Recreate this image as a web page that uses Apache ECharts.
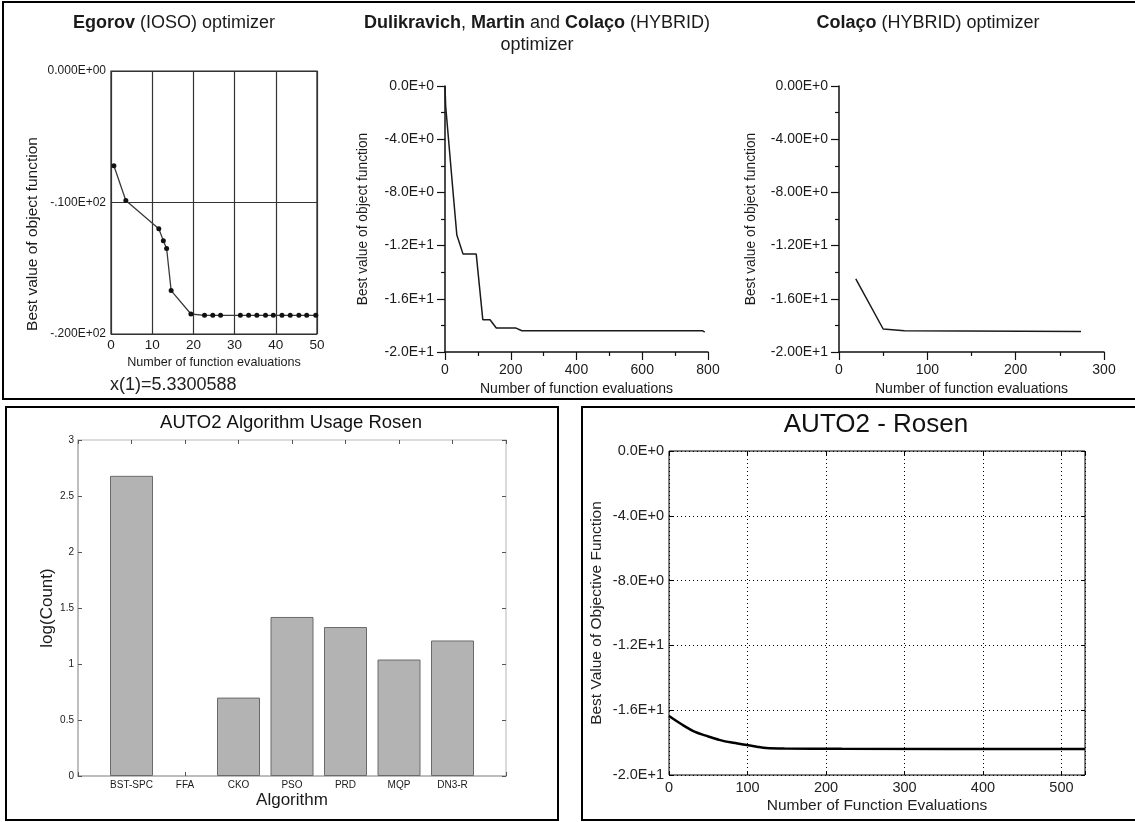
<!DOCTYPE html>
<html>
<head>
<meta charset="utf-8">
<script src="https://cdn.jsdelivr.net/npm/echarts@6/dist/echarts.min.js"></script>
<style>
  html, body { margin: 0; padding: 0; background: #ffffff; }
  #chart { width: 1135px; height: 822px; }
</style>
</head>
<body>
<div id="chart"></div>
<script>
const FONT = '"Liberation Sans", Arial, Helvetica, sans-serif';
const INK = '#1a1a1a';

// Egorov (IOSO) optimizer: best objective value per evaluation
const egorovEvals = [0.7, 3.6, 11.6, 12.7, 13.5, 14.6, 19.4, 22.7, 24.7, 26.6, 31.4, 33.4, 35.4, 37.5, 39.4, 41.5, 43.5, 45.6, 47.5, 49.7];
const egorovBest  = [-7.2, -9.85, -12.0, -12.9, -13.5, -16.7, -18.48, -18.58, -18.58, -18.58, -18.58, -18.58, -18.58, -18.58, -18.58, -18.58, -18.58, -18.58, -18.58, -18.58];
const egorovYLabels = ['0.000E+00', '-.100E+02', '-.200E+02'];

// Dulikravich, Martin and Colaço (HYBRID) optimizer
const hybridEvals = [0, 2, 26, 36, 55, 95, 115, 137, 156, 216, 234, 783, 790];
const hybridBest  = [0, -1.5, -8.4, -11.2, -12.64, -12.64, -17.57, -17.57, -18.2, -18.2, -18.4, -18.4, -18.5];
const hybridYLabels = ['0.0E+0', '-4.0E+0', '-8.0E+0', '-1.2E+1', '-1.6E+1', '-2.0E+1'];

// Colaço (HYBRID) optimizer
const colacoEvals = [19, 50, 74, 274];
const colacoBest  = [-14.5, -18.27, -18.4, -18.45];
const colacoYLabels = ['0.00E+0', '-4.00E+0', '-8.00E+0', '-1.20E+1', '-1.60E+1', '-2.00E+1'];

// AUTO2 algorithm usage on Rosen
const algorithms = ['BST-SPC', 'FFA', 'CKO', 'PSO', 'PRD', 'MQP', 'DN3-R'];
const logCounts  = [2.68, 0, 0.70, 1.42, 1.33, 1.04, 1.21];

// AUTO2 - Rosen convergence
const auto2Evals = [0, 17, 34, 50, 64, 80, 97, 112, 124, 147, 220, 530];
const auto2Best  = [-16.36, -16.9, -17.36, -17.62, -17.83, -18.0, -18.13, -18.25, -18.33, -18.36, -18.38, -18.4];
const auto2YLabels = ['0.0E+0', '-4.0E+0', '-8.0E+0', '-1.2E+1', '-1.6E+1', '-2.0E+1'];

const pairs = (xs, ys) => xs.map((x, i) => [x, ys[i]]);
const eLabel = (labels, step) => v => labels[Math.round(-v / step)] ?? '';

const txt = (size, extra) => Object.assign({ fontFamily: FONT, fontSize: size, color: INK }, extra || {});

const hybridXAxis = (grid, max, interval) => ({
  gridIndex: grid, type: 'value', min: 0, max: max, interval: interval,
  axisLine: { onZero: false, lineStyle: { color: '#111', width: 1.5 } },
  axisTick: { length: 8, lineStyle: { color: '#111', width: 1.2 } },
  minorTick: { show: true, splitNumber: 2, length: 4, lineStyle: { color: '#111', width: 1.2 } },
  splitLine: { show: false },
  axisLabel: txt(14, { margin: 11 }),
  name: 'Number of function evaluations', nameLocation: 'middle', nameGap: 30,
  nameTextStyle: txt(14)
});

const hybridYAxis = (grid, labels, gap) => ({
  gridIndex: grid, type: 'value', min: -20, max: 0, interval: 4,
  axisLine: { show: true, onZero: false, lineStyle: { color: '#111', width: 1.5 } },
  axisTick: { show: true, length: 8, lineStyle: { color: '#111', width: 1.2 } },
  minorTick: { show: true, splitNumber: 2, length: 4, lineStyle: { color: '#111', width: 1.2 } },
  splitLine: { show: false },
  axisLabel: txt(14, { margin: 11, formatter: eLabel(labels, 4) }),
  name: 'Best value of object function', nameLocation: 'middle', nameGap: gap,
  nameTextStyle: txt(13.8)
});

const chart = echarts.init(document.getElementById('chart'), null, { renderer: 'canvas' });

chart.setOption({
  animation: false,
  backgroundColor: '#ffffff',
  grid: [
    { left: 111, top: 71, width: 206, height: 263, show: true, borderColor: '#222', borderWidth: 1.2, backgroundColor: 'transparent' },
    { left: 445, top: 86, width: 263, height: 266 },
    { left: 839, top: 86, width: 265, height: 266 },
    { left: 78, top: 440, width: 428, height: 336 },
    { left: 669, top: 451, width: 416, height: 324, show: true, borderColor: '#000', borderWidth: 1, backgroundColor: 'transparent' }
  ],
  xAxis: [
    {
      gridIndex: 0, type: 'value', min: 0, max: 50, interval: 10,
      axisLine: { show: false, onZero: false },
      axisTick: { show: false },
      splitLine: { show: true, lineStyle: { color: '#333', width: 1.2 } },
      axisLabel: txt(13.5, { margin: 4 }),
      name: 'Number of function evaluations', nameLocation: 'middle', nameGap: 22,
      nameTextStyle: txt(12.6)
    },
    hybridXAxis(1, 800, 200),
    hybridXAxis(2, 300, 100),
    {
      gridIndex: 3, type: 'value', min: 0, max: 8, interval: 1,
      axisLine: { onZero: false, lineStyle: { color: '#a8a8a8', width: 1.5 } },
      axisTick: { inside: true, length: 4, lineStyle: { color: '#555' } },
      splitLine: { show: false },
      axisLabel: txt(10, { margin: 4, formatter: v => algorithms[v - 1] || '' }),
      name: 'Algorithm', nameLocation: 'middle', nameGap: 16,
      nameTextStyle: txt(17)
    },
    {
      gridIndex: 3, type: 'value', min: 0, max: 8, interval: 1, position: 'top',
      axisLine: { onZero: false, lineStyle: { color: '#cfcfcf', width: 1.5 } },
      axisTick: { inside: true, length: 4, lineStyle: { color: '#555' } },
      splitLine: { show: false }, axisLabel: { show: false }
    },
    {
      gridIndex: 4, type: 'value', min: 0, max: 530, interval: 100,
      axisLine: { show: false, onZero: false },
      axisTick: { inside: true, length: 4, lineStyle: { color: '#000' } },
      splitLine: { show: true, lineStyle: { color: '#000', type: [1, 3], width: 1 } },
      axisLabel: txt(14.5, { margin: 5, color: '#222', formatter: v => (v % 100 === 0 ? String(v) : '') }),
      name: 'Number of Function Evaluations', nameLocation: 'middle', nameGap: 23,
      nameTextStyle: txt(15.5, { color: '#222' })
    },
    {
      gridIndex: 4, type: 'value', min: 0, max: 530, interval: 100, position: 'top',
      axisLine: { show: false, onZero: false },
      axisTick: { inside: true, length: 4, lineStyle: { color: '#000' } },
      splitLine: { show: false }, axisLabel: { show: false }
    }
  ],
  yAxis: [
    {
      gridIndex: 0, type: 'value', min: -20, max: 0, interval: 10,
      axisLine: { show: false, onZero: false },
      axisTick: { show: false },
      splitLine: { show: true, lineStyle: { color: '#333', width: 1.2 } },
      axisLabel: txt(12, { margin: 5, formatter: eLabel(egorovYLabels, 10) })
    },
    hybridYAxis(1, hybridYLabels, 75),
    hybridYAxis(2, colacoYLabels, 81),
    {
      gridIndex: 3, type: 'value', min: 0, max: 3, interval: 0.5,
      axisLine: { show: true, onZero: false, lineStyle: { color: '#a8a8a8', width: 1.5 } },
      axisTick: { show: true, inside: true, length: 4, lineStyle: { color: '#555' } },
      splitLine: { show: false },
      axisLabel: txt(10, { margin: 4 }),
      name: 'log(Count)', nameLocation: 'middle', nameGap: 21,
      nameTextStyle: txt(17)
    },
    {
      gridIndex: 3, type: 'value', min: 0, max: 3, interval: 0.5, position: 'right',
      axisLine: { show: true, onZero: false, lineStyle: { color: '#cfcfcf', width: 1.5 } },
      axisTick: { show: true, inside: true, length: 4, lineStyle: { color: '#555' } },
      splitLine: { show: false }, axisLabel: { show: false }
    },
    {
      gridIndex: 4, type: 'value', min: -20, max: 0, interval: 4,
      axisLine: { show: false, onZero: false },
      axisTick: { show: true, inside: true, length: 4, lineStyle: { color: '#000' } },
      splitLine: { show: true, lineStyle: { color: '#000', type: [1, 3], width: 1 } },
      axisLabel: txt(14.5, { margin: 5, color: '#222', formatter: eLabel(auto2YLabels, 4) }),
      name: 'Best Value of Objective Function', nameLocation: 'middle', nameGap: 64,
      nameTextStyle: txt(15.5, { color: '#222' })
    },
    {
      gridIndex: 4, type: 'value', min: -20, max: 0, interval: 4, position: 'right',
      axisLine: { show: false, onZero: false },
      axisTick: { show: true, inside: true, length: 4, lineStyle: { color: '#000' } },
      splitLine: { show: false }, axisLabel: { show: false }
    }
  ],
  series: [
    {
      name: 'Egorov (IOSO)', type: 'line', xAxisIndex: 0, yAxisIndex: 0,
      data: pairs(egorovEvals, egorovBest),
      symbol: 'circle', symbolSize: 5,
      itemStyle: { color: '#111' },
      lineStyle: { color: '#3a3a3a', width: 1.3 },
      z: 5
    },
    {
      name: 'HYBRID', type: 'line', xAxisIndex: 1, yAxisIndex: 1,
      data: pairs(hybridEvals, hybridBest),
      showSymbol: false, symbol: 'none',
      lineStyle: { color: '#1a1a1a', width: 1.5 }
    },
    {
      name: 'Colaço HYBRID', type: 'line', xAxisIndex: 2, yAxisIndex: 2,
      data: pairs(colacoEvals, colacoBest),
      showSymbol: false, symbol: 'none',
      lineStyle: { color: '#1a1a1a', width: 1.5 }
    },
    {
      name: 'log(Count)', type: 'bar', xAxisIndex: 3, yAxisIndex: 3,
      // a zero count leaves no visible bar, so its outline is dropped too
      data: logCounts.map((v, i) => (v === 0
        ? { value: [i + 1, v], itemStyle: { borderWidth: 0 } }
        : [i + 1, v])),
      barWidth: 43,
      itemStyle: { color: '#b3b3b3', borderColor: '#6a6a6a', borderWidth: 1 }
    },
    {
      name: 'AUTO2', type: 'line', xAxisIndex: 5, yAxisIndex: 5,
      data: pairs(auto2Evals, auto2Best),
      showSymbol: false, symbol: 'none', smooth: 0.3,
      lineStyle: { color: '#000', width: 2.5 }
    }
  ],
  graphic: [
    // panel frames
    { type: 'rect', shape: { x: 3, y: 2, width: 1140, height: 397 }, style: { fill: 'none', stroke: '#000', lineWidth: 2 }, silent: true },
    { type: 'rect', shape: { x: 6, y: 407, width: 552, height: 413 }, style: { fill: 'none', stroke: '#000', lineWidth: 2 }, silent: true },
    { type: 'rect', shape: { x: 582, y: 407, width: 560, height: 413 }, style: { fill: 'none', stroke: '#000', lineWidth: 2 }, silent: true },
    // panel titles
    {
      type: 'text', x: 174, y: 23,
      style: {
        text: '{b|Egorov} (IOSO) optimizer', align: 'center', verticalAlign: 'middle',
        fontFamily: FONT, fontSize: 18, fill: INK,
        rich: { b: { fontFamily: FONT, fontSize: 18, fontWeight: 'bold', fill: INK } }
      }
    },
    {
      type: 'text', x: 537, y: 34,
      style: {
        text: '{b|Dulikravich}{n|, }{b|Martin}{n| and }{b|Colaço}{n| (HYBRID)}\n{n|optimizer}',
        align: 'center', verticalAlign: 'middle',
        fontFamily: FONT, fontSize: 18, fill: INK,
        rich: {
          b: { fontFamily: FONT, fontSize: 18, fontWeight: 'bold', fill: INK, lineHeight: 22 },
          n: { fontFamily: FONT, fontSize: 18, fill: INK, lineHeight: 22 }
        }
      }
    },
    {
      type: 'text', x: 928, y: 23,
      style: {
        text: '{b|Colaço} (HYBRID) optimizer', align: 'center', verticalAlign: 'middle',
        fontFamily: FONT, fontSize: 18, fill: INK,
        rich: { b: { fontFamily: FONT, fontSize: 18, fontWeight: 'bold', fill: INK } }
      }
    },
    {
      type: 'text', x: 33, y: 234, rotation: Math.PI / 2,
      style: { text: 'Best value of object function', align: 'center', verticalAlign: 'middle', fontFamily: FONT, fontSize: 15.5, fill: INK }
    },
    {
      type: 'text', x: 110, y: 385,
      style: { text: 'x(1)=5.3300588', align: 'left', verticalAlign: 'middle', fontFamily: FONT, fontSize: 18, fill: '#222' }
    },
    {
      type: 'text', x: 291, y: 423,
      style: { text: 'AUTO2 Algorithm Usage Rosen', align: 'center', verticalAlign: 'middle', fontFamily: FONT, fontSize: 18.5, fill: '#111' }
    },
    {
      type: 'text', x: 876, y: 425,
      style: { text: 'AUTO2 - Rosen', align: 'center', verticalAlign: 'middle', fontFamily: FONT, fontSize: 26, fill: '#111' }
    }
  ]
});
</script>
</body>
</html>
